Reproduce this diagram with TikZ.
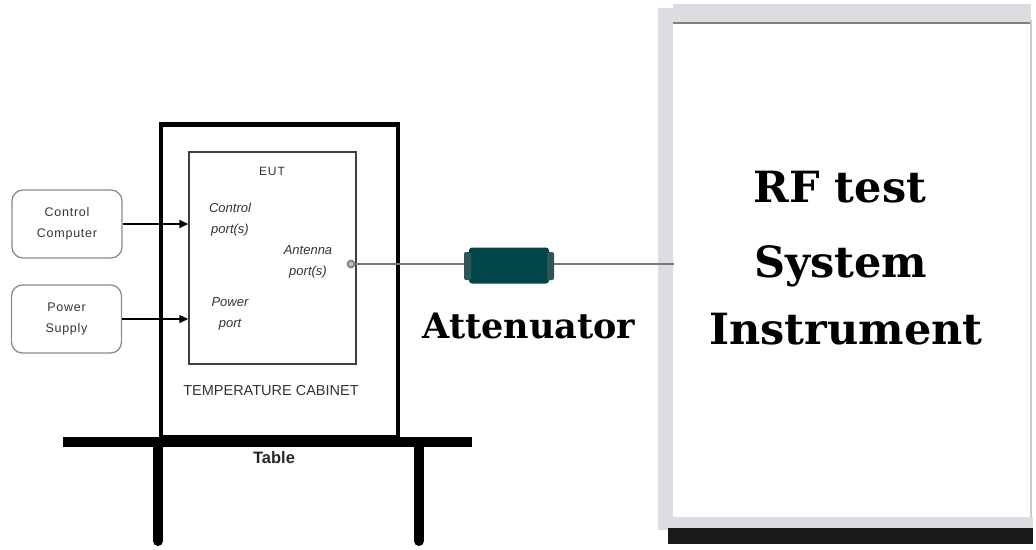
\documentclass[tikz,border=0pt]{standalone}
\usepackage{fontspec}
\usetikzlibrary{arrows.meta}
\newfontfamily\arialf{Liberation Sans}
\newfontfamily\serifbig{DejaVu Serif}
\definecolor{boxgray}{HTML}{8C8C8C}
\definecolor{txtgray}{HTML}{333333}
\definecolor{cablegray}{HTML}{777777}
\definecolor{teal}{HTML}{004646}
\definecolor{tealcap}{HTML}{2F5656}
\definecolor{framegray}{HTML}{DDDCE3}
\tikzset{
  smallbox/.style={draw=boxgray, line width=1.3pt, rounded corners=11pt, minimum width=110pt, minimum height=68pt, inner sep=0pt, align=center, text=txtgray, font=\arialf\fontsize{12.5}{21}\selectfont\addfontfeature{LetterSpace=6}},
  porttxt/.style={text=txtgray, align=center, inner sep=0pt, font=\arialf\itshape\fontsize{13}{21}\selectfont},
  feedarrow/.style={-{Triangle[length=9pt,width=8pt]}, black},
  bigtxt/.style={anchor=base, inner sep=0pt, font=\serifbig\bfseries\fontsize{43}{43}\selectfont},
}
\begin{document}
\begin{tikzpicture}[x=1pt,y=-1pt]
\useasboundingbox (0,0) rectangle (1036,549);
% instrument frame
\fill[framegray] (658,8) rectangle (673,530);
\fill[framegray] (673,4) rectangle (1031,23);
\draw[gray, line width=1.5pt] (673,23) -- (1031,23);
\draw[framegray!80!gray, line width=1.8pt] (1031,20) -- (1031,520);
\fill[framegray] (660,517) rectangle (1033,528);
\fill[black!90] (668,528) rectangle (1033,544);
\coordinate (inst) at (674,264);
\node[bigtxt] (rf1) at (840,202) {RF test};
\node[bigtxt] (rf2) at (841,277) {System};
\node[bigtxt] (rf3) at (846,344) {Instrument};
% table
\fill[black] (63,437) rectangle (472,447);
\draw[black, line width=10pt, line cap=round] (158,447) -- (158,541);
\draw[black, line width=10pt, line cap=round] (419,447) -- (419,541);
\node[font=\arialf\bfseries\fontsize{16.5}{20}\selectfont, text=black!85] (tbl) at (274,458) {Table};
% cabinet
\node[draw=black, line width=4.5pt, minimum width=237pt, minimum height=313pt, inner sep=0pt] (cab) at (279.5,281) {};
\node[font=\arialf\fontsize{14.5}{18}\selectfont, text=txtgray] (cabtxt) at (271,391) {TEMPERATURE CABINET};
% EUT
\node[draw=black!75, line width=1.5pt, minimum width=167pt, minimum height=212pt, inner sep=0pt] (eut) at (272.5,258) {};
\node[font=\arialf\fontsize{12}{16}\selectfont\addfontfeature{LetterSpace=8}, text=txtgray] (euttxt) at (272,171) {EUT};
\node[porttxt] (cport) at (230,220) {Control\\port(s)};
\node[porttxt] (aport) at (308,262) {Antenna\\port(s)};
\node[porttxt] (pport) at (230,314) {Power\\port};
% external boxes
\node[smallbox] (cc) at (67,224) {Control\\Computer};
\node[smallbox] (ps) at (66.5,319) {Power\\Supply};
\draw[feedarrow, line width=2pt] (cc.east) -- (cc.east -| eut.west);
\draw[feedarrow, line width=1.3pt] (ps.east) -- (ps.east -| eut.west);
% antenna port and cable
\node[circle, draw=cablegray, fill=black!25, line width=1.5pt, minimum size=7pt, inner sep=0pt] (ant) at (351,264) {};
\node[fill=teal, rounded corners=3pt, minimum width=80pt, minimum height=36pt, inner sep=0pt] (att) at (509,265.5) {};
\fill[tealcap, rounded corners=2pt] (464,252) rectangle (471,280);
\fill[tealcap, rounded corners=2pt] (547,252) rectangle (554,280);
\draw[cablegray, line width=2.2pt] (ant.east) -- (464,264);
\draw[cablegray, line width=2.2pt] (554,264) -- (inst);
\node[anchor=base, inner sep=0pt, font=\serifbig\bfseries\fontsize{35}{35}\selectfont] (attl) at (529,338) {Attenuator};
\end{tikzpicture}
\end{document}
